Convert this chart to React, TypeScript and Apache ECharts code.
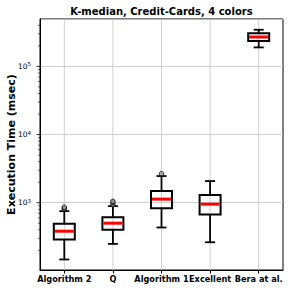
import React, { useEffect, useRef } from "react";
import * as echarts from "echarts";

const categories = ["Algorithm 2", "Q", "Algorithm 1", "Excellent", "Bera at al."];
const whiskerLow = [147, 249, 433, 263, 190000];
const quartile1 = [289, 401, 833, 673, 236000];
const medians = [382, 501, 1129, 953, 270000];
const quartile3 = [491, 614, 1482, 1294, 306000];
const whiskerHigh = [752, 891, 2461, 2078, 345000];
const outliers: [number, number][] = [
  [0, 800], [0, 830], [0, 860],
  [1, 930], [1, 1000], [1, 1045],
  [2, 2670],
];
const majorTicks = [1000, 10000, 100000];
const minorTicks = [
  200, 300, 400, 500, 600, 700, 800, 900,
  2000, 3000, 4000, 5000, 6000, 7000, 8000, 9000,
  20000, 30000, 40000, 50000, 60000, 70000, 80000, 90000,
  200000, 300000, 400000,
];
const yMin = 103;
const yMax = 496000;

const FONT = "DejaVu Sans";

export default function App() {
  const ref = useRef<HTMLDivElement>(null);
  useEffect(() => {
    document.body.style.margin = "0";
    const chart = echarts.init(ref.current!, null, { renderer: "svg" });
    const boxData = categories.map((_, i) => [
      i, whiskerLow[i], quartile1[i], medians[i], quartile3[i], whiskerHigh[i],
    ]);
    const option: any = {
      animation: false,
      backgroundColor: "#fff",
      title: {
        text: "K-median, Credit-Cards, 4 colors",
        left: 161.5,
        top: 6,
        textAlign: "center",
        padding: 0,
        textStyle: { fontFamily: FONT, fontSize: 10, fontWeight: "bold", color: "#000" },
      },
      grid: {
        left: 40, right: 8, top: 19, bottom: 21,
        containLabel: false,
        outerBoundsMode: "none",
        show: true, borderColor: "#000", borderWidth: 1, backgroundColor: "transparent",
      },
      xAxis: {
        type: "category",
        data: categories,
        axisLine: { show: true, lineStyle: { color: "#000", width: 1 } },
        axisTick: { show: true, alignWithLabel: true, length: 3.5, lineStyle: { color: "#000" } },
        axisLabel: {
          interval: 0, margin: 5, color: "#000", hideOverlap: false,
          fontFamily: FONT, fontSize: 8.2, fontWeight: "bold",
        },
        splitLine: { show: false },
      },
      yAxis: {
        type: "log",
        logBase: 10,
        min: yMin,
        max: yMax,
        name: "Execution Time (msec)",
        nameLocation: "middle",
        nameGap: 23,
        nameMoveOverlap: false,
        nameTextStyle: { fontFamily: FONT, fontSize: 11, fontWeight: "bold", color: "#000" },
        axisLine: { show: true, lineStyle: { color: "#000", width: 1 } },
        axisTick: { show: false },
        splitLine: { show: true, lineStyle: { color: "#c4c4c4", width: 0.8 } },
        axisLabel: {
          margin: 9,
          color: "#000",
          showMinLabel: false,
          showMaxLabel: false,
          formatter: (v: number) => {
            const l = Math.log10(v);
            const r = Math.round(l);
            if (Math.abs(l - r) > 1e-6) return "";
            return `{b|10}{s|${r}}`;
          },
          rich: {
            b: { fontFamily: FONT, fontSize: 7.5, color: "#000", lineHeight: 10 },
            s: { fontFamily: FONT, fontSize: 5.5, color: "#000", verticalAlign: "top", lineHeight: 6 },
          },
        },
      },
      series: [
        {
          type: "custom",
          name: "xgrid",
          z: 1,
          silent: true,
          data: categories.map((_, i) => [i, medians[i]]),
          encode: { x: 0, y: 1 },
          renderItem: (params: any, api: any) => {
            const cs = params.coordSys;
            const x = api.coord([api.value(0), api.value(1)])[0];
            return {
              type: "line",
              shape: { x1: x, y1: cs.y, x2: x, y2: cs.y + cs.height },
              style: { stroke: "#c4c4c4", lineWidth: 0.8 },
            };
          },
        },
        {
          type: "custom",
          name: "yticks",
          z: 3,
          silent: true,
          data: [...majorTicks.map((v) => [0, v, 1]), ...minorTicks.map((v) => [0, v, 0])],
          encode: { x: 0, y: 1 },
          renderItem: (params: any, api: any) => {
            const cs = params.coordSys;
            const y = api.coord([0, api.value(1)])[1];
            const len = api.value(2) ? 3.5 : 2;
            return {
              type: "line",
              shape: { x1: cs.x - len, y1: y, x2: cs.x, y2: y },
              style: { stroke: "#000", lineWidth: api.value(2) ? 0.8 : 0.6 },
            };
          },
        },
        {
          type: "custom",
          name: "boxes",
          z: 5,
          data: boxData,
          encode: { x: 0, y: [1, 2, 3, 4, 5] },
          renderItem: (params: any, api: any) => {
            const i = api.value(0);
            const pLow = api.coord([i, api.value(1)]);
            const pQ1 = api.coord([i, api.value(2)]);
            const pMed = api.coord([i, api.value(3)]);
            const pQ3 = api.coord([i, api.value(4)]);
            const pHigh = api.coord([i, api.value(5)]);
            const x = pLow[0];
            const hw = 10.5;
            const cw = 5;
            const black = { stroke: "#000", lineWidth: 1.8 };
            return {
              type: "group",
              children: [
                { type: "line", shape: { x1: x, y1: pQ1[1], x2: x, y2: pLow[1] }, style: black },
                { type: "line", shape: { x1: x, y1: pQ3[1], x2: x, y2: pHigh[1] }, style: black },
                { type: "line", shape: { x1: x - cw, y1: pLow[1], x2: x + cw, y2: pLow[1] }, style: black },
                { type: "line", shape: { x1: x - cw, y1: pHigh[1], x2: x + cw, y2: pHigh[1] }, style: black },
                {
                  type: "rect",
                  shape: { x: x - hw, y: pQ3[1], width: hw * 2, height: pQ1[1] - pQ3[1] },
                  style: { fill: "none", stroke: "#000", lineWidth: 2 },
                },
                {
                  type: "line",
                  shape: { x1: x - hw + 1, y1: pMed[1], x2: x + hw - 1, y2: pMed[1] },
                  style: { stroke: "#ff0000", lineWidth: 3 },
                },
              ],
            };
          },
        },
        {
          type: "scatter",
          name: "outliers",
          z: 6,
          data: outliers,
          symbol: "circle",
          symbolSize: 4.5,
          itemStyle: { color: "#999", borderColor: "#000", borderWidth: 1 },
        },
      ],
    };
    chart.setOption(option);
    return () => chart.dispose();
  }, []);
  return <div ref={ref} style={{ width: 291, height: 291 }} />;
}
